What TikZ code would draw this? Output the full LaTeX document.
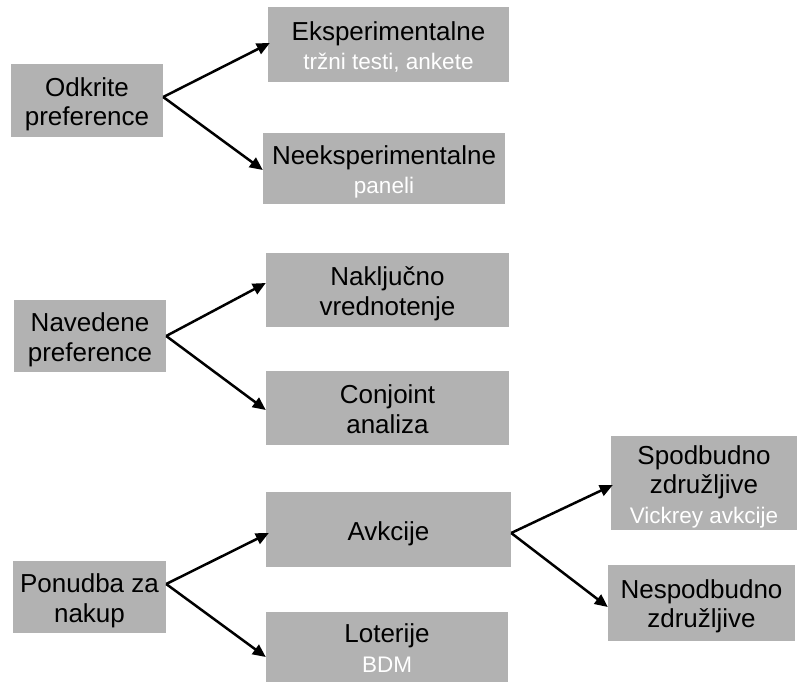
\documentclass[tikz,border=0pt]{standalone}
\usepackage{fontspec}
\setmainfont{Liberation Sans}
\usetikzlibrary{arrows.meta}
\definecolor{boxgray}{RGB}{178,178,178}
% struts that give every box the same line metrics
\newcommand{\toprl}{\rule{0pt}{27pt}}
\newcommand{\botrl}{\rule[-6pt]{0pt}{6pt}}
\newcommand{\subtxt}[1]{{\fontsize{22.5}{27}\selectfont\color{white}#1}}
\tikzset{
  box/.style={fill=boxgray, draw=none, inner sep=0pt, align=center,
    font=\fontsize{26}{29.5}\selectfont},
  conn/.style={line width=2.5pt, -{Triangle[length=13pt,width=11.5pt]}}
}
\begin{document}
\begin{tikzpicture}[x=1pt,y=-1pt]
\useasboundingbox (0,0) rectangle (797,682);
% group 1: revealed preferences
\node[box, minimum width=152pt, minimum height=73pt] (odk) at (87,100.5) {\toprl Odkrite\\preference\botrl};
\node[box, minimum width=241pt, minimum height=75pt] (eks) at (388.5,44.5) {\toprl Eksperimentalne\\\subtxt{tržni testi, ankete}\botrl};
\node[box, minimum width=242pt, minimum height=71pt] (neeks) at (384,168.5) {\toprl Neeksperimentalne\\\subtxt{paneli}\botrl};
% group 2: stated preferences
\node[box, minimum width=152pt, minimum height=72pt] (nav) at (90,336) {\toprl Navedene\\preference\botrl};
\node[box, minimum width=243pt, minimum height=74pt] (nakl) at (387.5,290) {\toprl Naključno\\vrednotenje\botrl};
\node[box, minimum width=243pt, minimum height=74pt] (conj) at (387.5,408) {\toprl Conjoint\\analiza\botrl};
% group 3: purchase offers
\node[box, minimum width=153pt, minimum height=72pt] (pon) at (89.5,597) {\toprl Ponudba za\\nakup\botrl};
\node[box, minimum width=245pt, minimum height=75pt] (avk) at (388.5,529.5) {\toprl Avkcije\botrl};
\node[box, minimum width=242pt, minimum height=70pt] (lot) at (387,647) {\toprl Loterije\\\subtxt{BDM}\botrl};
\node[box, minimum width=186pt, minimum height=94pt] (spod) at (704,483) {\toprl Spodbudno\\združljive\\\subtxt{Vickrey avkcije}\botrl};
\node[box, minimum width=187pt, minimum height=76pt] (nesp) at (701.5,602.5) {\toprl Nespodbudno\\združljive\botrl};
% arrow start points
\coordinate (odkr) at ([yshift=3.5pt]odk.east);
\coordinate (navr) at (nav.east);
\coordinate (ponr) at ([yshift=13pt]pon.east);
\coordinate (avkr) at ([yshift=-3.5pt]avk.east);
% connectors
\draw[conn] (odkr) -- ([xshift=2pt,yshift=1.5pt]eks.west);
\draw[conn] (odkr) -- ([yshift=-1.5pt]neeks.west);
\draw[conn] (navr) -- ([yshift=7pt]nakl.west);
\draw[conn] (navr) -- ([yshift=-2pt]conj.west);
\draw[conn] (ponr) -- ([xshift=3pt,yshift=-3.5pt]avk.west);
\draw[conn] (ponr) -- ([yshift=-10pt]lot.west);
\draw[conn] (avkr) -- ([xshift=2pt,yshift=-2pt]spod.west);
\draw[conn] (avkr) -- ([yshift=-4.5pt]nesp.west);
\end{tikzpicture}
\end{document}
